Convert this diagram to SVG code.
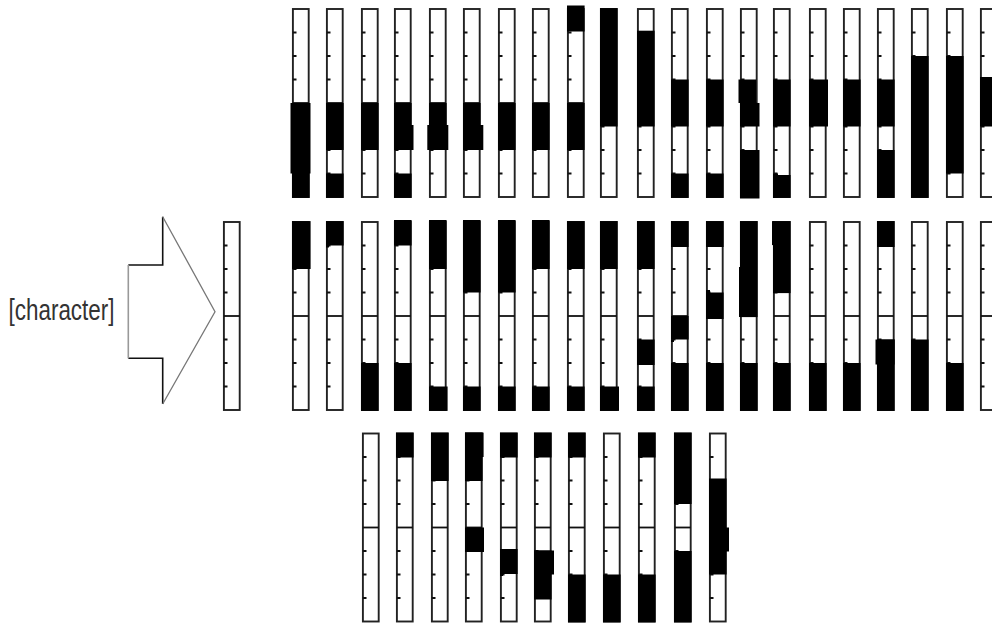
<svg xmlns="http://www.w3.org/2000/svg" xmlns:xlink="http://www.w3.org/1999/xlink" width="992" height="623" viewBox="0 0 992 623">
<style>
.o{fill:#fff;stroke:#222;stroke-width:1.9}
.t{stroke:#111;stroke-width:2}
.m{stroke:#111;stroke-width:1.8}
.f{fill:#000}
.lbl{font-family:"Liberation Sans",Arial,sans-serif;font-size:29px;fill:#333}
</style>
<defs>
<g id="bar">
<rect class="o" x="0.9" y="0" width="15.8" height="188"/>
<path class="t" d="M0.9 23.5H4.5M0.9 47H4.5M0.9 70.5H4.5M0.9 117.5H4.5M0.9 141H4.5M0.9 164.5H4.5"/>
<path class="m" d="M0.9 94H16.7"/>
</g>
</defs>
<rect width="992" height="623" fill="#fff"/>
<text id="label" class="lbl" x="8.5" y="320" textLength="106" lengthAdjust="spacingAndGlyphs">[character]</text>
<g id="connectors">
<path d="M162.7 216.7V265H128.3M128.3 358.3H162.7V404" fill="none" stroke="#111" stroke-width="1.6"/>
<path d="M128.3 265V358.3" fill="none" stroke="#999" stroke-width="1.6"/>
<path d="M162.7 216.7L215 311.7L162.7 404" fill="none" stroke="#777" stroke-width="1.3"/>
</g>
<g id="ref"><use xlink:href="#bar" x="223" y="222"/></g>

<g id="top">
<g id="t0" transform="translate(292,9)"><use xlink:href="#bar"/><rect class="f" x="-1.5" y="94" width="20" height="70.5"/><rect class="f" x="0" y="94" width="17.6" height="94.9"/></g>
<g id="t1" transform="translate(326,9)"><use xlink:href="#bar"/><rect class="f" x="0" y="94" width="17.6" height="47"/><rect class="f" x="0" y="164.5" width="17.6" height="24.4"/></g>
<g id="t2" transform="translate(361,9)"><use xlink:href="#bar"/><rect class="f" x="0" y="94" width="17.6" height="47"/></g>
<g id="t3" transform="translate(394,9)"><use xlink:href="#bar"/><rect class="f" x="0" y="94" width="17.6" height="47"/><rect class="f" x="0" y="116" width="19.5" height="25"/><rect class="f" x="0" y="164.5" width="17.6" height="24.4"/></g>
<g id="t4" transform="translate(429,9)"><use xlink:href="#bar"/><rect class="f" x="0" y="94" width="17.6" height="47"/><rect class="f" x="-1.7" y="116" width="21" height="25"/></g>
<g id="t5" transform="translate(463,9)"><use xlink:href="#bar"/><rect class="f" x="0" y="94" width="17.6" height="47"/><rect class="f" x="0" y="116" width="20.3" height="25"/></g>
<g id="t6" transform="translate(498,9)"><use xlink:href="#bar"/><rect class="f" x="0" y="94" width="17.6" height="47"/></g>
<g id="t7" transform="translate(532,9)"><use xlink:href="#bar"/><rect class="f" x="0" y="94" width="17.6" height="47"/></g>
<g id="t8" transform="translate(567,9)"><use xlink:href="#bar"/><rect class="f" x="0" y="-3.5" width="17.6" height="26"/><rect class="f" x="0" y="94" width="17.6" height="47"/></g>
<g id="t9" transform="translate(600,9)"><use xlink:href="#bar"/><rect class="f" x="0" y="-0.9" width="17.6" height="118.4"/></g>
<g id="t10" transform="translate(637,9)"><use xlink:href="#bar"/><rect class="f" x="0" y="21.7" width="17.6" height="95.8"/></g>
<g id="t11" transform="translate(671,9)"><use xlink:href="#bar"/><rect class="f" x="0" y="70.5" width="17.6" height="47"/><rect class="f" x="0" y="164.5" width="17.6" height="24.4"/></g>
<g id="t12" transform="translate(706,9)"><use xlink:href="#bar"/><rect class="f" x="0" y="70.5" width="17.6" height="47"/><rect class="f" x="0" y="164.5" width="17.6" height="24.4"/></g>
<g id="t13" transform="translate(740,9)"><use xlink:href="#bar"/><rect class="f" x="-1.5" y="70.5" width="17.6" height="23.5"/><rect class="f" x="0" y="94" width="19.5" height="23.5"/><rect class="f" x="0" y="141" width="19.5" height="48.5"/></g>
<g id="t14" transform="translate(773,9)"><use xlink:href="#bar"/><rect class="f" x="0" y="70.5" width="17.6" height="47"/><rect class="f" x="0" y="164.5" width="5" height="24.4"/><rect class="f" x="0" y="166" width="17.6" height="22.9"/></g>
<g id="t15" transform="translate(809,9)"><use xlink:href="#bar"/><rect class="f" x="0" y="70.5" width="19" height="47"/></g>
<g id="t16" transform="translate(843,9)"><use xlink:href="#bar"/><rect class="f" x="0" y="70.5" width="17.6" height="47"/></g>
<g id="t17" transform="translate(877,9)"><use xlink:href="#bar"/><rect class="f" x="0" y="70.5" width="17.6" height="47"/><rect class="f" x="0" y="141" width="17.6" height="47.9"/><rect class="f" x="0" y="141" width="4" height="2"/></g>
<g id="t18" transform="translate(911,9)"><use xlink:href="#bar"/><rect class="f" x="0" y="47" width="17.6" height="141.9"/></g>
<g id="t19" transform="translate(946,9)"><use xlink:href="#bar"/><rect class="f" x="0" y="47" width="17.6" height="117.5"/></g>
<g id="t20" transform="translate(980,9)"><use xlink:href="#bar"/><rect class="f" x="0" y="68" width="17.6" height="49.5"/></g>
</g>

<g id="middle">
<g id="m0" transform="translate(292,222)"><use xlink:href="#bar"/><rect class="f" x="0" y="-0.9" width="18.6" height="47.9"/></g>
<g id="m1" transform="translate(326,222)"><use xlink:href="#bar"/><rect class="f" x="0" y="-0.9" width="17.6" height="24.4"/><rect class="f" x="0" y="23" width="3" height="2.5"/></g>
<g id="m2" transform="translate(361,222)"><use xlink:href="#bar"/><rect class="f" x="0" y="141" width="17.6" height="47.9"/></g>
<g id="m3" transform="translate(394,222)"><use xlink:href="#bar"/><rect class="f" x="0" y="-2" width="17.6" height="25.5"/><rect class="f" x="0" y="141" width="17.6" height="47.9"/></g>
<g id="m4" transform="translate(429,222)"><use xlink:href="#bar"/><rect class="f" x="0" y="-2" width="17.6" height="49"/><rect class="f" x="0" y="164.5" width="18.6" height="24.4"/></g>
<g id="m5" transform="translate(463,222)"><use xlink:href="#bar"/><rect class="f" x="0" y="-2" width="17.6" height="72.5"/><rect class="f" x="0" y="164.5" width="17.6" height="24.4"/></g>
<g id="m6" transform="translate(498,222)"><use xlink:href="#bar"/><rect class="f" x="0" y="-2" width="17.6" height="72.5"/><rect class="f" x="0" y="164.5" width="17.6" height="24.4"/></g>
<g id="m7" transform="translate(532,222)"><use xlink:href="#bar"/><rect class="f" x="0" y="-2" width="17.6" height="49"/><rect class="f" x="0" y="164.5" width="17.6" height="24.4"/></g>
<g id="m8" transform="translate(567,222)"><use xlink:href="#bar"/><rect class="f" x="0" y="-0.9" width="17.6" height="47.9"/><rect class="f" x="0" y="164.5" width="17.6" height="24.4"/></g>
<g id="m9" transform="translate(600,222)"><use xlink:href="#bar"/><rect class="f" x="0" y="-0.9" width="17.6" height="47.9"/><rect class="f" x="0" y="164.5" width="19" height="24.4"/></g>
<g id="m10" transform="translate(637,222)"><use xlink:href="#bar"/><rect class="f" x="0" y="-0.9" width="17.6" height="47.9"/><rect class="f" x="0" y="117.5" width="17.6" height="25.5"/><rect class="f" x="0" y="164.5" width="17.6" height="24.4"/></g>
<g id="m11" transform="translate(671,222)"><use xlink:href="#bar"/><rect class="f" x="0" y="-0.9" width="17.6" height="25.9"/><rect class="f" x="0" y="94" width="17.6" height="23.5"/><rect class="f" x="0" y="117.5" width="3" height="2.5"/><rect class="f" x="0" y="141" width="17.6" height="47.9"/></g>
<g id="m12" transform="translate(706,222)"><use xlink:href="#bar"/><rect class="f" x="0" y="-0.9" width="17.6" height="25.9"/><rect class="f" x="0" y="70.5" width="17.6" height="26.5"/><rect class="f" x="0" y="68" width="4" height="3"/><rect class="f" x="0" y="141" width="17.6" height="47.9"/></g>
<g id="m13" transform="translate(740,222)"><use xlink:href="#bar"/><rect class="f" x="0" y="-0.9" width="17.6" height="96"/><rect class="f" x="-1" y="45" width="3" height="50"/><rect class="f" x="0" y="141" width="17.6" height="47.9"/></g>
<g id="m14" transform="translate(773,222)"><use xlink:href="#bar"/><rect class="f" x="0" y="-0.9" width="17.6" height="72"/><rect class="f" x="-1" y="-0.9" width="2" height="24"/><rect class="f" x="0" y="141" width="17.6" height="47.9"/></g>
<g id="m15" transform="translate(809,222)"><use xlink:href="#bar"/><rect class="f" x="0" y="141" width="17.6" height="47.9"/></g>
<g id="m16" transform="translate(843,222)"><use xlink:href="#bar"/><rect class="f" x="0" y="141" width="17.6" height="47.9"/></g>
<g id="m17" transform="translate(877,222)"><use xlink:href="#bar"/><rect class="f" x="0" y="-0.9" width="17.6" height="25.9"/><rect class="f" x="-1.5" y="117.5" width="19.1" height="25"/><rect class="f" x="0" y="117.5" width="17.6" height="71.4"/></g>
<g id="m18" transform="translate(911,222)"><use xlink:href="#bar"/><rect class="f" x="0" y="117.5" width="17.6" height="71.4"/></g>
<g id="m19" transform="translate(946,222)"><use xlink:href="#bar"/><rect class="f" x="0" y="141" width="17.6" height="47.9"/></g>
<g id="m20" transform="translate(980,222)"><use xlink:href="#bar"/></g>
</g>

<g id="bottom">
<g id="b0" transform="translate(362,433.5)"><use xlink:href="#bar"/></g>
<g id="b1" transform="translate(396,433.5)"><use xlink:href="#bar"/><rect class="f" x="0" y="-0.9" width="17.6" height="24.9"/></g>
<g id="b2" transform="translate(431,433.5)"><use xlink:href="#bar"/><rect class="f" x="0" y="-0.9" width="17.6" height="48.4"/></g>
<g id="b3" transform="translate(465,433.5)"><use xlink:href="#bar"/><rect class="f" x="0" y="-0.9" width="18.6" height="24.4"/><rect class="f" x="0" y="-0.9" width="17.6" height="48.4"/><rect class="f" x="0" y="94" width="19" height="24.5"/></g>
<g id="b4" transform="translate(500,433.5)"><use xlink:href="#bar"/><rect class="f" x="0" y="-0.9" width="17.6" height="24.9"/><rect class="f" x="0" y="115.5" width="17.6" height="25"/><rect class="f" x="0" y="140" width="3" height="2.5"/></g>
<g id="b5" transform="translate(534,433.5)"><use xlink:href="#bar"/><rect class="f" x="0" y="-0.9" width="17.6" height="24.9"/><rect class="f" x="0" y="117" width="20" height="24"/><rect class="f" x="0" y="117" width="17.6" height="49"/></g>
<g id="b6" transform="translate(568,433.5)"><use xlink:href="#bar"/><rect class="f" x="0" y="-0.9" width="17.6" height="24.9"/><rect class="f" x="0" y="141" width="17.6" height="47.9"/></g>
<g id="b7" transform="translate(603,433.5)"><use xlink:href="#bar"/><rect class="f" x="0" y="141" width="17.6" height="47.9"/></g>
<g id="b8" transform="translate(638,433.5)"><use xlink:href="#bar"/><rect class="f" x="0" y="-0.9" width="17.6" height="24.9"/><rect class="f" x="0" y="141" width="17.6" height="47.9"/></g>
<g id="b9" transform="translate(674,433.5)"><use xlink:href="#bar"/><rect class="f" x="0" y="-0.9" width="17.6" height="71.4"/><rect class="f" x="0" y="117.5" width="17.6" height="71.4"/></g>
<g id="b10" transform="translate(709,433.5)"><use xlink:href="#bar"/><rect class="f" x="0" y="45" width="17.6" height="96"/><rect class="f" x="0" y="94" width="20" height="24"/></g>
</g>
</svg>
